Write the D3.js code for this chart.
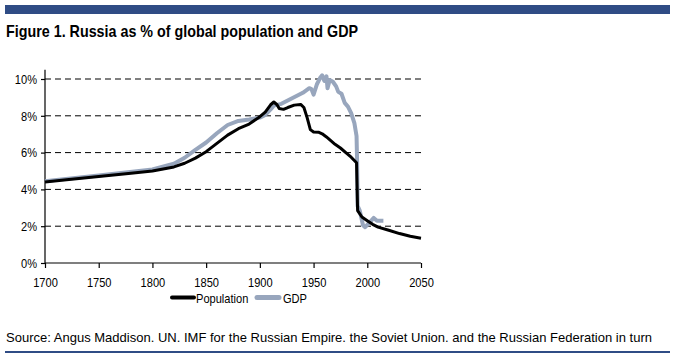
<!DOCTYPE html>
<html><head><meta charset="utf-8">
<script src="https://cdn.jsdelivr.net/npm/d3@7"></script>
<style>
html,body{margin:0;padding:0;background:#fff;}
svg{display:block;font-family:"Liberation Sans",Arial,sans-serif;}
</style></head>
<body><svg id="c" width="675" height="355"></svg>
<script>
const popYears = [1700,1720,1750,1780,1800,1820,1830,1840,1850,1860,1870,1880,1890,1900,1905,1910,1913,1916,1918,1922,1926,1932,1938,1941,1944,1947,1950,1955,1958,1962,1966,1970,1975,1980,1985,1990,1991,1995,2000,2005,2010,2020,2030,2040,2050];
const popValues = [4.4,4.52,4.7,4.88,5.0,5.22,5.42,5.7,6.05,6.5,6.95,7.3,7.55,7.95,8.2,8.6,8.75,8.6,8.4,8.35,8.45,8.58,8.62,8.45,7.9,7.25,7.12,7.1,7.02,6.85,6.65,6.45,6.25,6.0,5.75,5.45,2.85,2.5,2.3,2.1,1.95,1.78,1.6,1.45,1.35];
const gdpYears = [1700,1750,1800,1820,1830,1840,1850,1860,1870,1880,1890,1900,1905,1910,1913,1920,1930,1940,1946,1948,1950,1953,1956,1958,1960,1962,1963,1965,1968,1971,1973,1976,1979,1982,1985,1988,1990,1990.5,1991,1993,1996,1998,2002,2006,2009,2012,2015];
const gdpValues = [4.45,4.75,5.08,5.4,5.72,6.15,6.55,7.05,7.5,7.72,7.8,7.9,8.05,8.35,8.55,8.65,8.95,9.25,9.5,9.45,9.15,9.7,10.05,10.2,9.9,10.15,9.5,9.95,9.85,9.6,9.3,9.2,8.7,8.5,8.15,7.6,6.9,5.6,3.1,2.85,2.05,1.95,2.2,2.45,2.3,2.3,2.3];
const xTicks = [1700,1750,1800,1850,1900,1950,2000,2050];
const yTicks = [0,2,4,6,8,10];
const seriesNames = ["Population","GDP"];
const titleText = "Figure 1. Russia as % of global population and GDP";
const sourceText = "Source: Angus Maddison. UN. IMF for the Russian Empire. the Soviet Union. and the Russian Federation in turn";

const svg = d3.select("#c");
const blue = "#2F4C85", grayC = "#98A6BD";
const x = d3.scaleLinear().domain([1700,2050]).range([45,421]);
const y = d3.scaleLinear().domain([0,10.5]).range([263,69.8]);

svg.append("rect").attr("x",5).attr("y",5).attr("width",665).attr("height",9).attr("fill",blue);
svg.append("text").attr("class","fit").attr("x",6).attr("y",37).attr("font-size",17).attr("font-weight","bold")
  .attr("textLength",352).attr("lengthAdjust","spacingAndGlyphs").text(titleText);

// gridlines
svg.append("g").selectAll("line").data(yTicks.filter(d=>d>0)).join("line")
  .attr("x1",45).attr("x2",421).attr("y1",d=>y(d)).attr("y2",d=>y(d))
  .attr("stroke","#000").attr("stroke-width",1).attr("stroke-dasharray","6,4");

// axes
const ya = svg.append("g").attr("transform","translate(45,0)")
  .call(d3.axisLeft(y).tickValues(yTicks).tickSize(4).tickPadding(4).tickFormat(d=>d+"%"));
ya.select(".domain").attr("d","M0,"+y(10.5)+"V"+y(0));
const xa = svg.append("g").attr("transform","translate(0,263)")
  .call(d3.axisBottom(x).tickValues(xTicks).tickSize(5).tickPadding(9).tickFormat(d3.format("d")));
xa.select(".domain").attr("d","M45,0H421");
svg.selectAll(".tick text").attr("font-size",13.5).attr("font-family",null).attr("fill","#000");
svg.selectAll(".domain,.tick line").attr("stroke","#000").attr("stroke-width",1.2);

const line = d3.line().x(d=>x(d[0])).y(d=>y(d[1]));
svg.append("path").datum(gdpYears.map((d,i)=>[d,gdpValues[i]]))
  .attr("d",line).attr("fill","none").attr("stroke",grayC).attr("stroke-width",4).attr("stroke-linejoin","round");
svg.append("path").datum(popYears.map((d,i)=>[d,popValues[i]]))
  .attr("d",line).attr("fill","none").attr("stroke","#000").attr("stroke-width",3).attr("stroke-linejoin","round");
// legend
const lg = svg.append("g");
const legItems = [{name:seriesNames[0],color:"#000",x1:172,x2:194,tx:196,w:4},{name:seriesNames[1],color:grayC,x1:257,x2:279,tx:283,w:5}];
legItems.forEach(it=>{
  lg.append("line").attr("x1",it.x1).attr("x2",it.x2).attr("y1",297.5).attr("y2",297.5)
    .attr("stroke",it.color).attr("stroke-width",it.w).attr("stroke-linecap","round");
  lg.append("text").attr("x",it.tx).attr("y",302.5).attr("font-size",13.5).text(it.name);
});
svg.append("text").attr("class","fit").attr("x",6).attr("y",342).attr("font-size",13.5)
  .attr("textLength",646).attr("lengthAdjust","spacingAndGlyphs").text(sourceText);
svg.append("rect").attr("x",5).attr("y",351).attr("width",665).attr("height",2).attr("fill",blue);

// emulate a narrow typeface
svg.selectAll("text:not(.fit)").each(function(){
  const w = this.getComputedTextLength();
  d3.select(this).attr("textLength",w*0.82).attr("lengthAdjust","spacingAndGlyphs");
});
</script></body></html>
